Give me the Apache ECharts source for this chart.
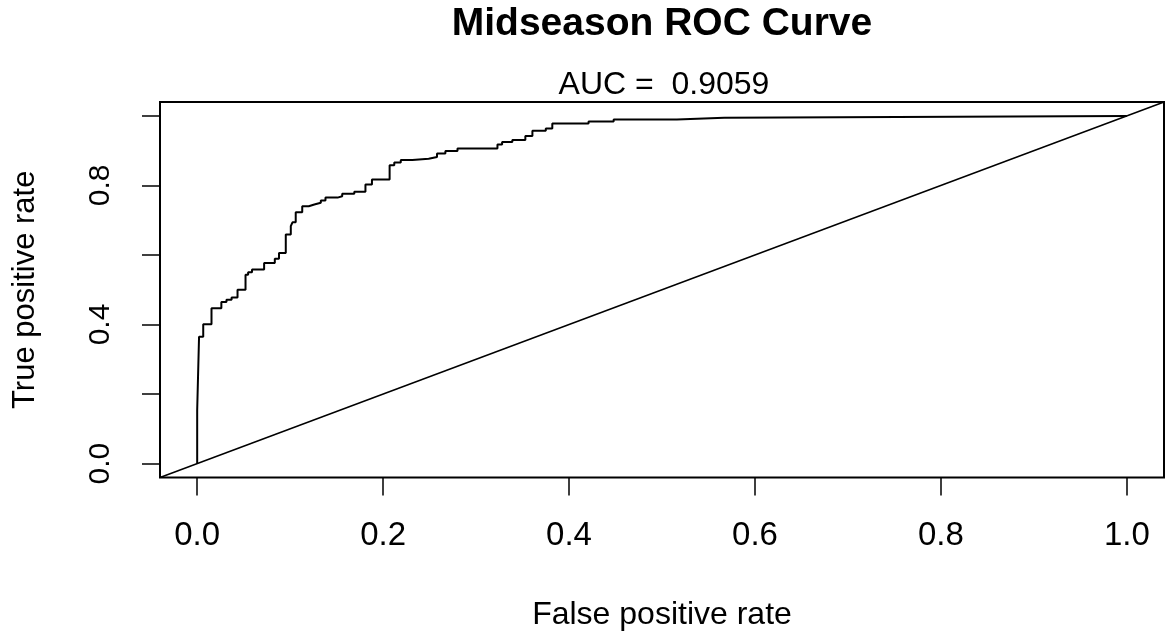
<!DOCTYPE html>
<html>
<head>
<meta charset="utf-8">
<script src="https://cdn.jsdelivr.net/npm/echarts@6/dist/echarts.min.js"></script>
<style>
html,body{margin:0;padding:0;background:#fff;}
#c{width:1165px;height:637px;}
</style>
</head>
<body>
<div id="c"></div>
<script>
// ROC curve: FPR positions where TPR steps up, and the TPR reached at each step
const stepFpr = [0, 0.002, 0.0065, 0.0154, 0.026, 0.0315, 0.037, 0.0434, 0.052, 0.0548,
  0.059, 0.072, 0.0835, 0.088, 0.0953, 0.1007, 0.1025, 0.106, 0.113, 0.12,
  0.126, 0.133, 0.138, 0.151, 0.156, 0.169, 0.181, 0.188, 0.207, 0.212,
  0.219, 0.2315, 0.249, 0.258, 0.267, 0.280, 0.323, 0.328, 0.339, 0.353,
  0.3606, 0.375, 0.382, 0.421, 0.448, 0.516, 0.567, 1.0];
const stepTpr = [0.154, 0.365, 0.401, 0.447, 0.465, 0.471, 0.478, 0.500, 0.543, 0.550,
  0.558, 0.577, 0.589, 0.606, 0.659, 0.683, 0.694, 0.723, 0.740, 0.745,
  0.750, 0.757, 0.765, 0.769, 0.776, 0.782, 0.803, 0.817, 0.858, 0.866,
  0.873, 0.877, 0.882, 0.892, 0.899, 0.906, 0.918, 0.925, 0.931, 0.942,
  0.957, 0.964, 0.978, 0.984, 0.990, 0.995, 1.0, 1.0];
const refX = [-0.04, 1.04];
const refY = [-0.04, 1.04];
const tickValues = [0, 0.2, 0.4, 0.6, 0.8, 1.0];
const yTickValues = [0, 0.2, 0.4, 0.6, 0.8, 1.0];
const yLabelValues = [0, 0.4, 0.8];
const titleText = 'Midseason ROC Curve';
const aucText = 'AUC =  0.9059';
const xName = 'False positive rate';
const yName = 'True positive rate';

const rocPts = [[0, 0]];
let prev = 0;
for (let i = 0; i < stepFpr.length; i++) {
  rocPts.push([stepFpr[i], prev]);
  rocPts.push([stepFpr[i], stepTpr[i]]);
  prev = stepTpr[i];
}
const refPts = refX.map((x, i) => [x, refY[i]]);

const FONT = '"Liberation Sans", Arial, sans-serif';
const chart = echarts.init(document.getElementById('c'), null, {renderer: 'canvas'});
chart.setOption({
  animation: false,
  backgroundColor: '#fff',
  title: [
    {text: titleText, left: 662, top: 5, padding: 0, textAlign: 'center',
     textStyle: {fontFamily: FONT, fontSize: 39, fontWeight: 'bold', color: '#000'}},
    {text: aucText, left: 664, top: 69, padding: 0, textAlign: 'center',
     textStyle: {fontFamily: FONT, fontSize: 32, fontWeight: 'normal', color: '#000'}}
  ],
  grid: {left: 160, right: 1, top: 102, bottom: 159.5, show: true,
         borderColor: '#000', borderWidth: 2, containLabel: false},
  xAxis: {
    type: 'value', min: -0.04, max: 1.04,
    name: xName, nameLocation: 'middle', nameGap: 122,
    nameTextStyle: {fontFamily: FONT, fontSize: 32, color: '#000'},
    axisLine: {show: false, onZero: false},
    splitLine: {show: false},
    axisTick: {show: true, inside: false, length: 18, customValues: tickValues,
               lineStyle: {color: '#000', width: 1.5}},
    axisLabel: {customValues: tickValues, margin: 42, fontFamily: FONT, fontSize: 33, color: '#000',
                formatter: v => v.toFixed(1)}
  },
  yAxis: {
    type: 'value', min: -0.04, max: 1.04,
    name: yName, nameLocation: 'middle', nameGap: 119, nameRotate: 90,
    nameTextStyle: {fontFamily: FONT, fontSize: 31, color: '#000'},
    axisLine: {show: false, onZero: false},
    splitLine: {show: false},
    axisTick: {show: true, inside: false, length: 18, customValues: yTickValues,
               lineStyle: {color: '#000', width: 1.5}},
    axisLabel: {customValues: yLabelValues, margin: 44, rotate: 90, fontFamily: FONT, fontSize: 30, color: '#000',
                formatter: v => v.toFixed(1)}
  },
  series: [
    {type: 'line', data: rocPts, showSymbol: false, symbol: 'none', clip: true,
     lineStyle: {color: '#000', width: 2}},
    {type: 'line', data: refPts, showSymbol: false, symbol: 'none', clip: true,
     lineStyle: {color: '#000', width: 1.5}}
  ]
});
</script>
</body>
</html>
